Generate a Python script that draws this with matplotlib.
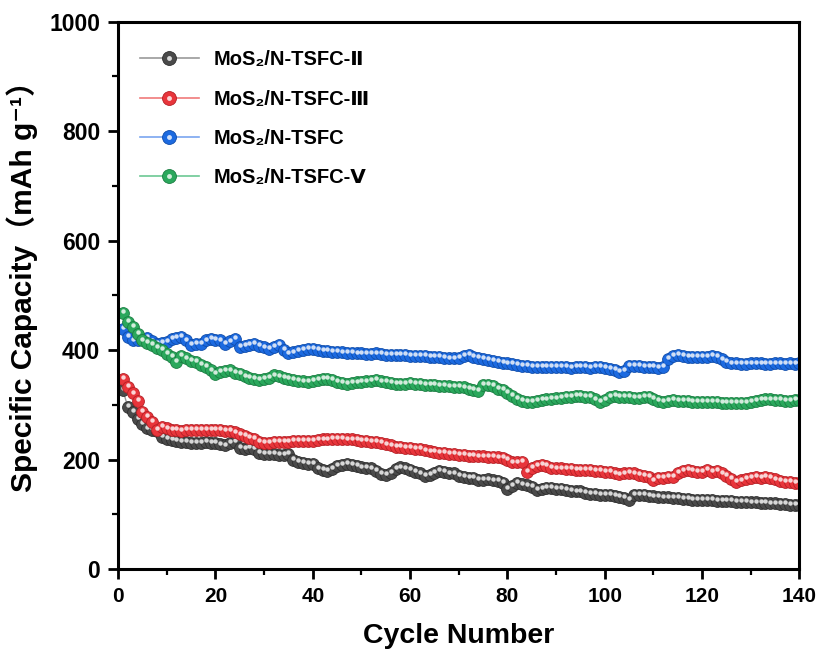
import numpy as np
import matplotlib
matplotlib.use('Agg')
import matplotlib.pyplot as plt
from matplotlib.transforms import offset_copy
from matplotlib.legend_handler import HandlerTuple
from matplotlib.lines import Line2D

plt.rcParams['font.family'] = ['Liberation Sans', 'DejaVu Sans', 'Noto Sans CJK SC']
plt.rcParams['font.weight'] = 'bold'

cycles = np.arange(1, 141)

# capacity per cycle, mAh/g
cap_II = [327, 296, 287, 275, 266, 257, 255, 252, 242, 238,
          236, 235, 233, 232, 231, 230, 230, 232, 231, 230,
          228, 226, 230, 232, 221, 219, 222, 220, 213, 211,
          210, 211, 209, 208, 210, 200, 196, 194, 193, 192,
          184, 181, 180, 183, 188, 190, 192, 190, 188, 186,
          185, 184, 180, 174, 172, 176, 183, 186, 184, 181,
          178, 175, 171, 172, 176, 180, 178, 175, 175, 170,
          168, 167, 166, 163, 163, 164, 162, 161, 158, 146,
          152, 157, 155, 153, 150, 145, 147, 149, 148, 147,
          146, 145, 143, 142, 142, 140, 138, 137, 136, 135,
          135, 134, 132, 130, 127, 136, 136, 135, 134, 133,
          132, 131, 131, 130, 130, 129, 128, 127, 127, 126,
          126, 126, 125, 125, 124, 124, 123, 123, 123, 122,
          122, 121, 121, 120, 120, 119, 119, 118, 118, 118]

cap_III = [348, 333, 321, 308, 287, 278, 269, 254, 260, 257,
           255, 254, 253, 254, 255, 254, 255, 255, 254, 254,
           254, 253, 252, 250, 246, 243, 240, 238, 233, 230,
           231, 232, 232, 233, 233, 234, 234, 235, 234, 235,
           236, 237, 237, 238, 238, 238, 237, 237, 236, 235,
           235, 233, 232, 230, 228, 226, 224, 223, 222, 221,
           220, 219, 217, 215, 214, 213, 212, 211, 210, 209,
           208, 207, 207, 206, 206, 205, 205, 204, 203, 200,
           195, 195, 196, 178, 185, 188, 191, 189, 185, 184,
           184, 183, 183, 182, 182, 181, 181, 180, 179, 178,
           177, 175, 173, 175, 176, 175, 172, 170, 169, 162,
           166, 167, 168, 169, 176, 180, 181, 179, 178, 178,
           182, 178, 180, 175, 171, 165, 160, 162, 165, 167,
           168, 167, 168, 166, 164, 161, 159, 160, 158, 158]

cap_IV = [439, 424, 418, 419, 421, 423, 416, 412, 413, 415,
          421, 423, 424, 418, 409, 411, 412, 418, 421, 419,
          418, 412, 416, 421, 406, 408, 410, 412, 408, 405,
          403, 406, 409, 400, 394, 396, 399, 401, 403, 402,
          400, 399, 398, 397, 397, 396, 395, 395, 394, 394,
          393, 393, 394, 393, 392, 392, 391, 391, 391, 390,
          390, 389, 389, 388, 388, 387, 386, 385, 385, 386,
          390, 391, 388, 386, 384, 382, 380, 378, 377, 376,
          375, 373, 372, 371, 369, 370, 370, 369, 370, 369,
          369, 369, 368, 369, 370, 369, 368, 369, 369, 368,
          366, 364, 360, 362, 371, 372, 371, 370, 370, 369,
          368, 369, 384, 390, 391, 389, 388, 388, 388, 387,
          388, 389, 387, 383, 378, 376, 376, 375, 375, 376,
          376, 376, 375, 375, 376, 376, 375, 376, 375, 376]

cap_V = [468, 451, 442, 430, 418, 414, 409, 404, 400, 393,
         387, 378, 390, 385, 381, 378, 373, 369, 363, 357,
         360, 362, 363, 359, 357, 352, 349, 347, 345, 348,
         350, 354, 352, 350, 348, 346, 344, 343, 342, 344,
         346, 347, 348, 345, 342, 340, 339, 340, 341, 342,
         343, 344, 345, 343, 342, 340, 339, 338, 339, 340,
         339, 338, 337, 336, 336, 335, 335, 334, 333, 333,
         332, 330, 327, 325, 336, 337, 335, 330, 327, 322,
         316, 311, 308, 306, 306, 307, 309, 310, 311, 312,
         313, 314, 315, 316, 317, 315, 314, 310, 305, 309,
         315, 317, 315, 314, 314, 313, 313, 314, 314, 311,
         308, 305, 308, 309, 308, 307, 307, 306, 306, 306,
         305, 305, 305, 304, 304, 304, 303, 303, 304, 305,
         307, 309, 310, 310, 309, 309, 308, 308, 309, 309]

labels = ['MoS\u2082/N-TSFC-\u2161', 'MoS\u2082/N-TSFC-\u2162',
          'MoS\u2082/N-TSFC', 'MoS\u2082/N-TSFC-\u2164']
series = [cap_II, cap_III, cap_IV, cap_V]
colors = ['#4a4a4a', '#e8353b', '#1c6ae0', '#2aa85c']
edges = ['#2e2e2e', '#b51f25', '#0f4caa', '#1a7d42']
linecols = ['#9a9a9a', '#f07a7a', '#7aa6f0', '#6cc894']

fig, ax = plt.subplots(figsize=(8.2, 6.58), dpi=100)
fig.subplots_adjust(left=0.144, right=0.975, bottom=0.135, top=0.967)

shine = offset_copy(ax.transData, fig=fig, x=0, y=1.3, units='points')
handles = []
for y, c, ec, lc, lab in zip(series, colors, edges, linecols, labels):
    ax.plot(cycles, y, '-', color=lc, lw=1)
    ax.plot(cycles, y, 'o', ms=8.5, mfc=c, mec=ec, mew=0.6)
    ax.plot(cycles, y, 'o', ms=3.2, mfc='white', mec='none', alpha=0.8, transform=shine)
    h1 = Line2D([], [], color=lc, lw=1.2, marker='o', ms=10, mfc=c, mec=ec, mew=0.6)
    h2 = Line2D([], [], ls='none', marker='o', ms=3.5, mfc='white', mec='none', alpha=0.8)
    handles.append((h1, h2))

ax.set_xlim(0, 140)
ax.set_ylim(0, 1000)
ax.set_xticks(np.arange(0, 141, 20))
ax.set_xticks(np.arange(0, 141, 10), minor=True)
ax.set_yticks(np.arange(0, 1001, 200))
ax.set_yticks(np.arange(0, 1001, 100), minor=True)
ax.tick_params(which='major', length=7, width=2, pad=6)
ax.tick_params(which='minor', length=4, width=1.6)
ax.tick_params(axis='x', labelsize=15)
ax.tick_params(axis='y', labelsize=16.5)
for lbl in ax.get_xticklabels() + ax.get_yticklabels():
    lbl.set_fontweight('bold')
for sp in ax.spines.values():
    sp.set_linewidth(2.2)

ax.set_xlabel('Cycle Number', fontsize=20.5, fontweight='bold', labelpad=12)
ax.set_ylabel('Specific Capacity\uff08mAh g\u207b\u00b9\uff09', fontsize=21.5,
              fontweight='bold')
ax.yaxis.set_label_coords(-0.118, 0.53)

leg = ax.legend(handles, labels, loc='upper left', frameon=False,
                bbox_to_anchor=(0.0, 0.988), fontsize=14.5, labelspacing=1.0,
                handlelength=2.9, handletextpad=0.75, borderpad=0.6,
                handler_map={tuple: HandlerTuple(ndivide=1)})
for t in leg.get_texts():
    t.set_fontweight('bold')

fig.savefig('out.png', dpi=100)
